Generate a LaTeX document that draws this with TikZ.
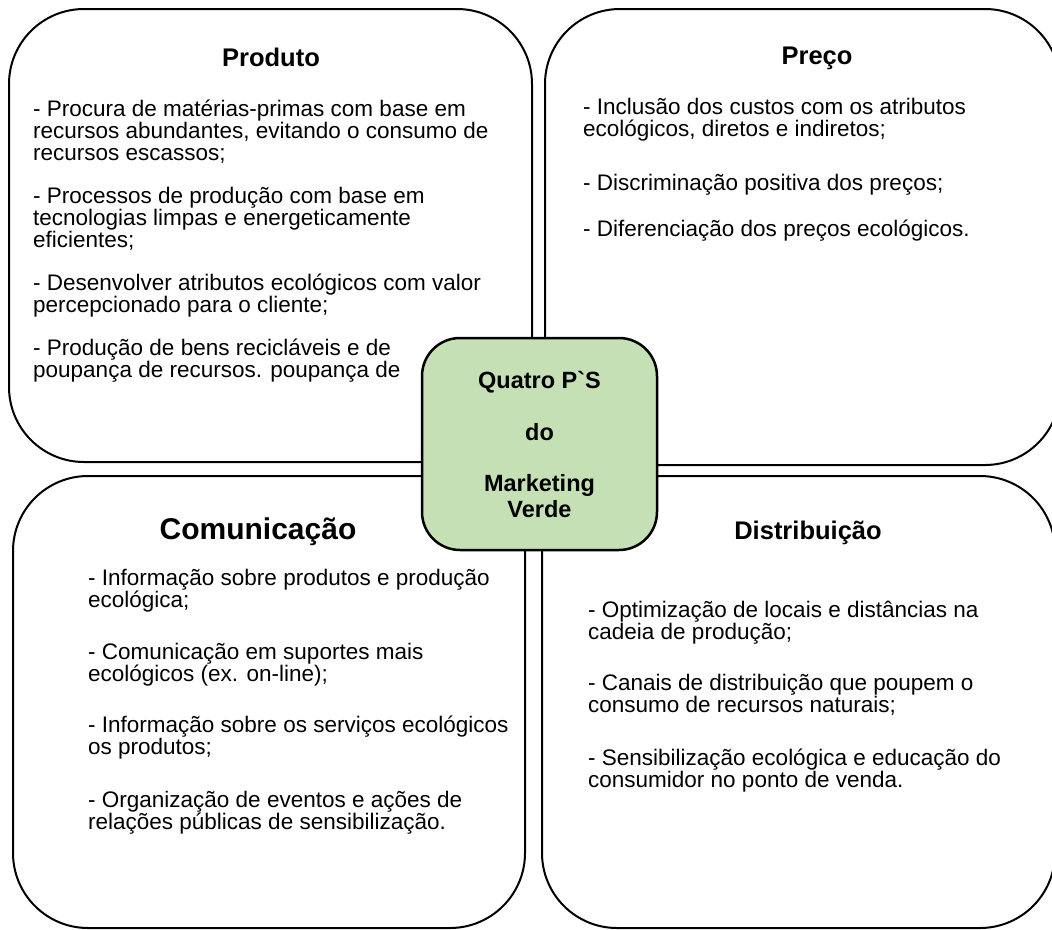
\documentclass[tikz,border=0pt]{standalone}
\usepackage{fontspec}
\setmainfont{Liberation Sans}
\definecolor{verdeclaro}{HTML}{C5E0B4}
\newcommand{\topolinha}{\rule{0pt}{20pt}}

\begin{document}
\begin{tikzpicture}[x=1pt, y=-1pt,
  quadrante/.style={draw=black, line width=2pt, rounded corners=75pt, inner sep=0pt},
  titulo/.style={anchor=base, inner sep=0pt, font=\fontsize{25.5}{26}\selectfont\bfseries},
  corpo/.style={anchor=north west, inner sep=0pt, align=left, font=\fontsize{22.5}{22}\selectfont},
  centro/.style={draw=black, line width=2.5pt, fill=verdeclaro, rounded corners=38pt,
    align=center, inner sep=0pt, font=\fontsize{23.5}{26}\selectfont\bfseries}
]
  \useasboundingbox (0,0) rectangle (1052,929);
  \clip (0,0) rectangle (1052,929);

  % Quadrants
  \node[quadrante, minimum width=523, minimum height=453] (produto) at (270.5,235.5) {};
  \node[quadrante, minimum width=515, minimum height=456] (preco) at (802.5,237) {};
  \node[quadrante, minimum width=512, minimum height=452] (comunicacao) at (269,702) {};
  \node[quadrante, minimum width=513, minimum height=452] (distribuicao) at (798.5,702) {};

  % Titles
  \node[titulo] (tprod) at (271,66) {Produto};
  \node[titulo] (tpreco) at (817,64) {Preço};
  \node[titulo, font=\fontsize{30}{30}\selectfont\bfseries] (tcom) at (258,539) {Comunicação};
  \node[titulo] (tdist) at (808,539) {Distribuição};

  % Produto
  \node[corpo] (cprod) at (33,96) {\topolinha- Procura de matérias-primas com base em\\
    recursos abundantes, evitando o consumo de\\
    recursos escassos;\\[21pt]
    - Processos de produção com base em\\
    tecnologias limpas e energeticamente\\
    eficientes;\\[21pt]
    - Desenvolver atributos ecológicos com valor\\
    percepcionado para o cliente;\\[21pt]
    - Produção de bens recicláveis e de\\
    poupança de recursos. poupança de};

  % Preco
  \node[corpo] (cpreco) at (583,94) {\topolinha- Inclusão dos custos com os atributos\\
    ecológicos, diretos e indiretos;\\[32pt]
    - Discriminação positiva dos preços;\\[24pt]
    - Diferenciação dos preços ecológicos.};

  % Comunicacao
  \node[corpo] (ccom) at (88,565) {\topolinha- Informação sobre produtos e produção\\
    ecológica;\\[30pt]
    - Comunicação em suportes mais\\
    ecológicos (ex. on-line);\\[29pt]
    - Informação sobre os serviços ecológicos\\
    os produtos;\\[31pt]
    - Organização de eventos e ações de\\
    relações públicas de sensibilização.};

  % Distribuicao
  \node[corpo] (cdist) at (588,597) {\topolinha- Optimização de locais e distâncias na\\
    cadeia de produção;\\[29pt]
    - Canais de distribuição que poupem o\\
    consumo de recursos naturais;\\[31pt]
    - Sensibilização ecológica e educação do\\
    consumidor no ponto de venda.};

  % Centre
  \node[centro, minimum width=235, minimum height=212] (meio) at (539.5,444)
    {Quatro P{\addfontfeatures{Ligatures=TeXOff}`}S\\[26pt]do\\[25pt]Marketing\\Verde};

\end{tikzpicture}
\end{document}
